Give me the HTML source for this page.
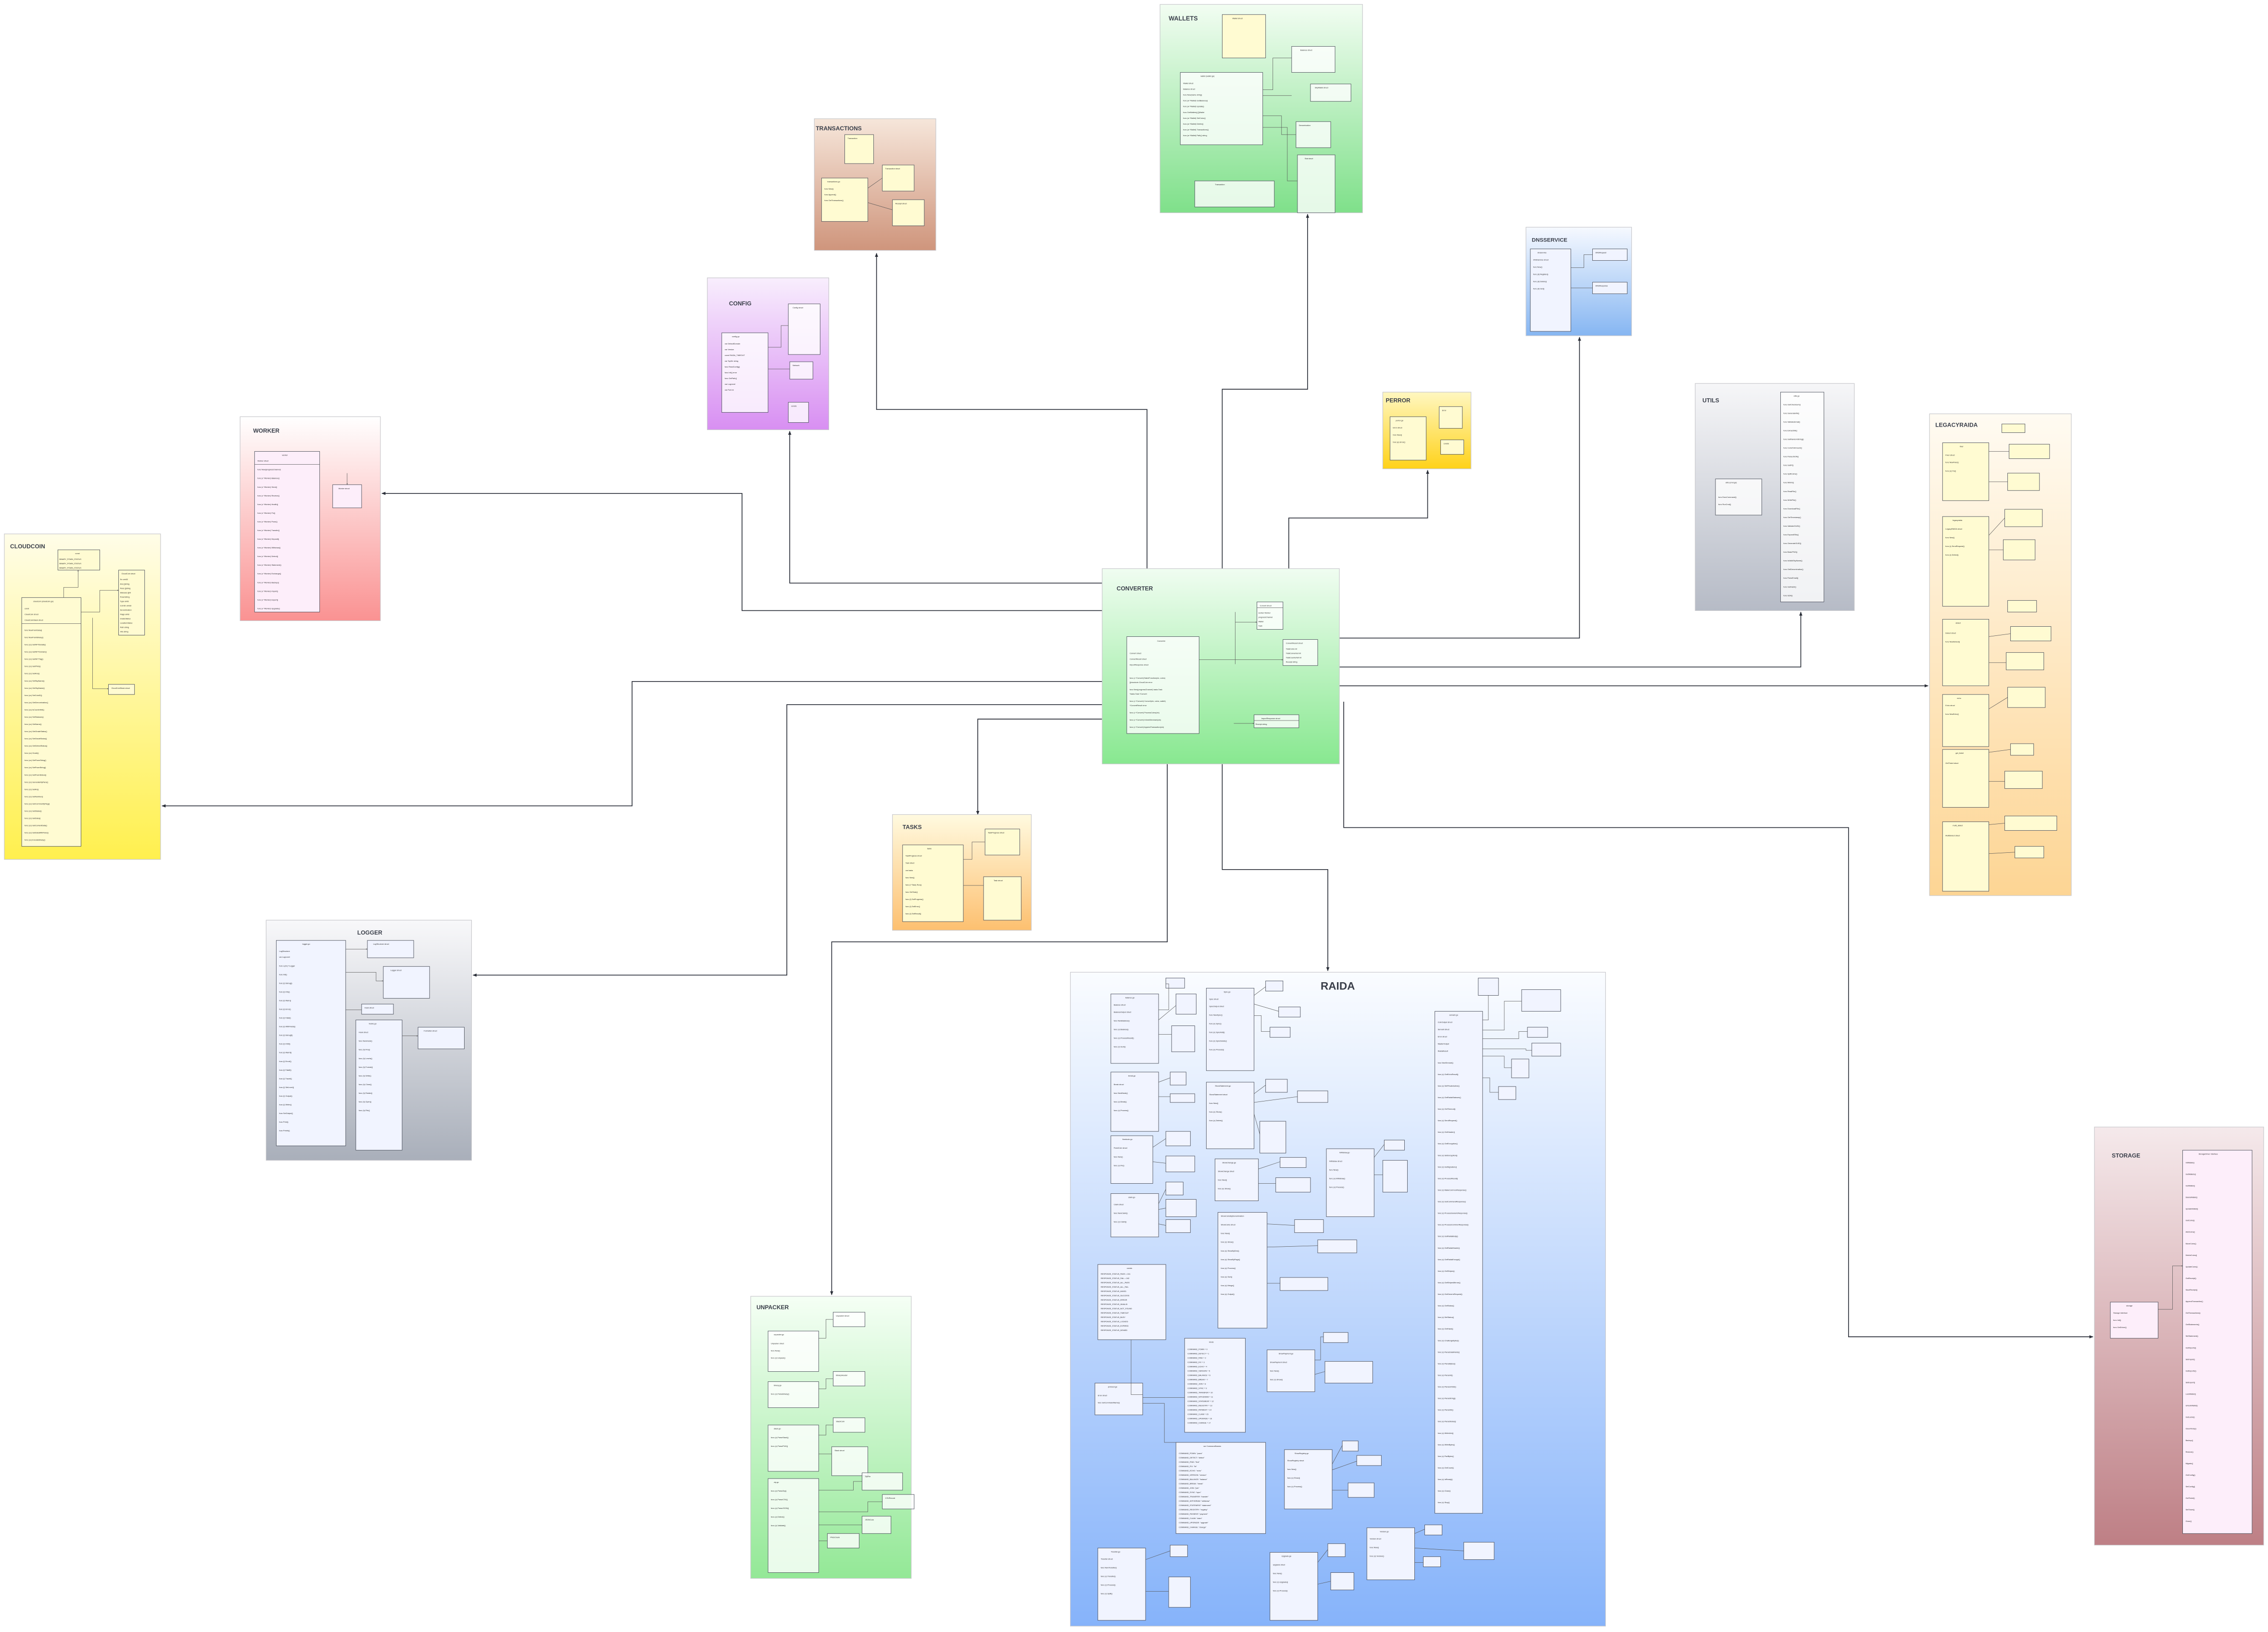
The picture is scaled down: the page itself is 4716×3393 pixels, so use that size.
<!DOCTYPE html>
<html><head><meta charset="utf-8">
<style>
html,body{margin:0;padding:0;background:#fff;}
svg{display:block;}
.pk{stroke:#c8c8cc;stroke-width:0.4;}
.t{font-family:"Liberation Sans",sans-serif;font-weight:bold;fill:#3a3f4a;}
.c{fill:#ffffff;fill-opacity:0.8;stroke:#4a4f5a;stroke-width:0.3;}
.y{fill:#fffbd2;stroke:#4a4f5a;stroke-width:0.3;}
.p{fill:#fdeefa;stroke:#4a4f5a;stroke-width:0.3;}
.s{fill:#f1f4ff;stroke:#4a4f5a;stroke-width:0.3;}
.f{font-family:"Liberation Sans",sans-serif;font-size:1.3px;fill:#222;}
.ln{stroke:#2a2e38;stroke-width:0.55;fill:none;}
.il{stroke:#555;stroke-width:0.25;fill:none;}
</style></head>
<body>
<svg width="4716" height="3393" viewBox="0 0 1568 1128" xmlns="http://www.w3.org/2000/svg">
<defs>
<marker id="a" viewBox="0 0 10 10" refX="9" refY="5" markerWidth="5" markerHeight="5" orient="auto"><path d="M0,1 L10,5 L0,9 z" fill="#2a2e38"/></marker>
<marker id="b" viewBox="0 0 10 10" refX="9" refY="5" markerWidth="4" markerHeight="4" orient="auto"><path d="M0,1 L10,5 L0,9 z" fill="#555"/></marker>
<linearGradient id="gWal" x1="0" y1="0" x2="0" y2="1"><stop offset="0" stop-color="#f2fdf2"/><stop offset="1" stop-color="#7fe08a"/></linearGradient>
<linearGradient id="gTra" x1="0" y1="0" x2="0" y2="1"><stop offset="0" stop-color="#f6e6da"/><stop offset="1" stop-color="#cf957c"/></linearGradient>
<linearGradient id="gCfg" x1="0" y1="0" x2="0" y2="1"><stop offset="0" stop-color="#f8eefd"/><stop offset="1" stop-color="#d88ff2"/></linearGradient>
<linearGradient id="gDns" x1="0" y1="0" x2="0" y2="1"><stop offset="0" stop-color="#f6f9ff"/><stop offset="1" stop-color="#86b6f2"/></linearGradient>
<linearGradient id="gPer" x1="0" y1="0" x2="0" y2="1"><stop offset="0" stop-color="#fff7c0"/><stop offset="1" stop-color="#ffd21a"/></linearGradient>
<linearGradient id="gUti" x1="0" y1="0" x2="0" y2="1"><stop offset="0" stop-color="#f6f6f8"/><stop offset="1" stop-color="#b6bbc6"/></linearGradient>
<linearGradient id="gLeg" x1="0" y1="0" x2="0" y2="1"><stop offset="0" stop-color="#fffbf2"/><stop offset="1" stop-color="#fdd594"/></linearGradient>
<linearGradient id="gWor" x1="0" y1="0" x2="0" y2="1"><stop offset="0" stop-color="#ffffff"/><stop offset="1" stop-color="#fa9292"/></linearGradient>
<linearGradient id="gClo" x1="0" y1="0" x2="0" y2="1"><stop offset="0" stop-color="#fffde8"/><stop offset="1" stop-color="#fff04e"/></linearGradient>
<linearGradient id="gCon" x1="0" y1="0" x2="0" y2="1"><stop offset="0" stop-color="#f0fdf1"/><stop offset="1" stop-color="#88e890"/></linearGradient>
<linearGradient id="gTas" x1="0" y1="0" x2="0" y2="1"><stop offset="0" stop-color="#fffae0"/><stop offset="1" stop-color="#fdc070"/></linearGradient>
<linearGradient id="gLog" x1="0" y1="0" x2="0" y2="1"><stop offset="0" stop-color="#f8f8fa"/><stop offset="1" stop-color="#a9afba"/></linearGradient>
<linearGradient id="gRai" x1="0" y1="0" x2="0" y2="1"><stop offset="0" stop-color="#fafcff"/><stop offset="1" stop-color="#86b3fa"/></linearGradient>
<linearGradient id="gUnp" x1="0" y1="0" x2="0" y2="1"><stop offset="0" stop-color="#f5fff5"/><stop offset="1" stop-color="#93e896"/></linearGradient>
<linearGradient id="gSto" x1="0" y1="0" x2="0" y2="1"><stop offset="0" stop-color="#f5e9eb"/><stop offset="1" stop-color="#be7f85"/></linearGradient>
</defs>

<!-- connectors -->
<polyline class="ln" points="793,393 793,283 606,283 606,175" marker-end="url(#a)"/>
<polyline class="ln" points="845,393 845,269 904,269 904,148" marker-end="url(#a)"/>
<polyline class="ln" points="762,403 546,403 546,298" marker-end="url(#a)"/>
<polyline class="ln" points="762,422 513,422 513,341 264,341" marker-end="url(#a)"/>
<polyline class="ln" points="891,393 891,358 987,358 987,325" marker-end="url(#a)"/>
<polyline class="ln" points="926,441 1092,441 1092,233" marker-end="url(#a)"/>
<polyline class="ln" points="926,461 1245,461 1245,423" marker-end="url(#a)"/>
<polyline class="ln" points="926,474 1333,474" marker-end="url(#a)"/>
<polyline class="ln" points="762,471 437,471 437,557 112,557" marker-end="url(#a)"/>
<polyline class="ln" points="762,497 676,497 676,563" marker-end="url(#a)"/>
<polyline class="ln" points="762,487 544,487 544,674 327,674" marker-end="url(#a)"/>
<polyline class="ln" points="807,528 807,651 575,651 575,895" marker-end="url(#a)"/>
<polyline class="ln" points="845,528 845,601 918,601 918,671" marker-end="url(#a)"/>
<polyline class="ln" points="929,485 929,572 1278,572 1278,924 1447,924" marker-end="url(#a)"/>

<!-- packages -->
<rect class="pk" x="802" y="3" width="140" height="144" fill="url(#gWal)"/>
<text class="t" x="808" y="14" font-size="4.2">WALLETS</text>
<rect class="pk" x="563" y="82" width="84" height="91" fill="url(#gTra)"/>
<text class="t" x="564" y="90" font-size="4">TRANSACTIONS</text>
<rect class="pk" x="489" y="192" width="84" height="105" fill="url(#gCfg)"/>
<text class="t" x="504" y="211" font-size="4">CONFIG</text>
<rect class="pk" x="1055" y="157" width="73" height="75" fill="url(#gDns)"/>
<text class="t" x="1059" y="167" font-size="3.8">DNSSERVICE</text>
<rect class="pk" x="956" y="271" width="61" height="53" fill="url(#gPer)"/>
<text class="t" x="958" y="278" font-size="4">PERROR</text>
<rect class="pk" x="1172" y="265" width="110" height="157" fill="url(#gUti)"/>
<text class="t" x="1177" y="278" font-size="4">UTILS</text>
<rect class="pk" x="1334" y="286" width="98" height="333" fill="url(#gLeg)"/>
<text class="t" x="1338" y="295" font-size="4">LEGACYRAIDA</text>
<rect class="pk" x="166" y="288" width="97" height="141" fill="url(#gWor)"/>
<text class="t" x="175" y="299" font-size="4">WORKER</text>
<rect class="pk" x="3" y="369" width="108" height="225" fill="url(#gClo)"/>
<text class="t" x="7" y="379" font-size="4">CLOUDCOIN</text>
<rect class="pk" x="762" y="393" width="164" height="135" fill="url(#gCon)"/>
<text class="t" x="772" y="408" font-size="4">CONVERTER</text>
<rect class="pk" x="617" y="563" width="96" height="80" fill="url(#gTas)"/>
<text class="t" x="624" y="573" font-size="4">TASKS</text>
<rect class="pk" x="184" y="636" width="142" height="166" fill="url(#gLog)"/>
<text class="t" x="247" y="646" font-size="4">LOGGER</text>
<rect class="pk" x="740" y="672" width="370" height="452" fill="url(#gRai)"/>
<text class="t" x="913" y="684" font-size="7.5">RAIDA</text>
<rect class="pk" x="519" y="896" width="111" height="195" fill="url(#gUnp)"/>
<text class="t" x="523" y="905" font-size="4">UNPACKER</text>
<rect class="pk" x="1448" y="779" width="117" height="289" fill="url(#gSto)"/>
<text class="t" x="1460" y="800" font-size="4">STORAGE</text>

<!-- WALLETS inner -->
<g>
<rect class="y" x="845" y="10" width="30" height="30"/><text class="f" x="852" y="13">Wallet struct</text>
<rect class="c" x="816" y="50" width="57" height="50"/><text class="f" x="830" y="53">wallet (wallet.go)</text>
<text class="f" x="818" y="58">Wallet struct</text><text class="f" x="818" y="62">Balance struct</text><text class="f" x="818" y="66">func New(name string)</text><text class="f" x="818" y="70">func (w *Wallet) GetBalance()</text><text class="f" x="818" y="74">func (w *Wallet) Update()</text><text class="f" x="818" y="78">func GetWallets() []Wallet</text><text class="f" x="818" y="82">func (w *Wallet) SetCoins()</text><text class="f" x="818" y="86">func (w *Wallet) Delete()</text><text class="f" x="818" y="90">func (w *Wallet) Transactions()</text><text class="f" x="818" y="94">func (w *Wallet) Path() string</text>
<rect class="c" x="893" y="32" width="30" height="18"/><text class="f" x="899" y="35">Balance struct</text>
<rect class="c" x="906" y="58" width="28" height="12"/><text class="f" x="909" y="61">SkyWallet struct</text>
<rect class="c" x="896" y="84" width="24" height="18"/><text class="f" x="898" y="87">Denomination</text>
<rect class="c" x="897" y="107" width="26" height="40"/><text class="f" x="902" y="110">Stat struct</text>
<rect class="c" x="826" y="125" width="55" height="18"/><text class="f" x="840" y="128">Transaction</text>
<polyline class="il" points="873,66 893,66"/><polyline class="il" points="873,62 880,62 880,40 893,40"/><polyline class="il" points="873,80 886,80 886,93 896,93"/><polyline class="il" points="873,88 890,88 890,125 897,125"/>
</g>

<!-- TRANSACTIONS inner -->
<rect class="y" x="584" y="93" width="20" height="20"/><text class="f" x="586" y="96">Transaction</text>
<rect class="y" x="568" y="123" width="32" height="30"/><text class="f" x="572" y="126">transactions.go</text><text class="f" x="570" y="131">func New()</text><text class="f" x="570" y="135">func Append()</text><text class="f" x="570" y="139">func GetTransactions()</text>
<rect class="y" x="610" y="114" width="22" height="18"/><text class="f" x="612" y="117">Transaction struct</text>
<rect class="y" x="617" y="138" width="22" height="18"/><text class="f" x="619" y="141">Receipt struct</text>
<polyline class="il" points="600,130 610,123"/><polyline class="il" points="600,140 617,145"/>

<!-- CONFIG inner -->
<rect class="c" x="499" y="230" width="32" height="55"/><text class="f" x="506" y="233">config.go</text>
<text class="f" x="501" y="238">var DefaultDomain</text><text class="f" x="501" y="242">var Version</text><text class="f" x="501" y="246">const RAIDA_TIMEOUT</text><text class="f" x="501" y="250">var TopDir string</text><text class="f" x="501" y="254">func ReadConfig()</text><text class="f" x="501" y="258">func Init() error</text><text class="f" x="501" y="262">func GetPath()</text><text class="f" x="501" y="266">var LogLevel</text><text class="f" x="501" y="270">var Port int</text>
<rect class="c" x="545" y="210" width="22" height="35"/><text class="f" x="548" y="213">Config struct</text>
<rect class="c" x="546" y="250" width="16" height="12"/><text class="f" x="548" y="253">Network</text>
<rect class="c" x="545" y="278" width="14" height="14"/><text class="f" x="547" y="281">consts</text>
<polyline class="il" points="531,240 540,240 540,225 545,225"/><polyline class="il" points="531,255 546,255"/>

<!-- DNSSERVICE inner -->
<rect class="s" x="1058" y="172" width="28" height="57"/><text class="f" x="1063" y="175">dnsservice</text><text class="f" x="1060" y="180">DNSService struct</text><text class="f" x="1060" y="185">func New()</text><text class="f" x="1060" y="190">func (d) Register()</text><text class="f" x="1060" y="195">func (d) Delete()</text><text class="f" x="1060" y="200">func (d) Get()</text>
<rect class="s" x="1101" y="172" width="24" height="8"/><text class="f" x="1103" y="175">DNSRequest</text>
<rect class="s" x="1101" y="195" width="24" height="8"/><text class="f" x="1103" y="198">DNSResponse</text>
<polyline class="il" points="1086,185 1095,185 1095,176 1101,176"/><polyline class="il" points="1086,199 1101,199"/>

<!-- PERROR inner -->
<rect class="y" x="961" y="288" width="25" height="30"/><text class="f" x="965" y="291">perror.go</text><text class="f" x="963" y="296">Error struct</text><text class="f" x="963" y="301">func New()</text><text class="f" x="963" y="306">func (e) Error()</text>
<rect class="y" x="995" y="281" width="16" height="15"/><text class="f" x="997" y="284">Error</text>
<rect class="y" x="996" y="304" width="16" height="10"/><text class="f" x="998" y="307">consts</text>

<!-- UTILS inner -->
<rect class="c" x="1231" y="271" width="30" height="145"/><text class="f" x="1240" y="274">utils.go</text>
<g class="f"><text x="1233" y="280">func GetChecksum()</text><text x="1233" y="286">func GenerateAN()</text><text x="1233" y="292">func ValidateEmail()</text><text x="1233" y="298">func ExtractSN()</text><text x="1233" y="304">func GetRandomString()</text><text x="1233" y="310">func CoinsToAmount()</text><text x="1233" y="316">func ParseJSON()</text><text x="1233" y="322">func GetIP()</text><text x="1233" y="328">func SplitCoins()</text><text x="1233" y="334">func MinInt()</text><text x="1233" y="340">func ReadFile()</text><text x="1233" y="346">func WriteFile()</text><text x="1233" y="352">func DownloadFile()</text><text x="1233" y="358">func GetTimestamp()</text><text x="1233" y="364">func ValidateGUID()</text><text x="1233" y="370">func ExpandSNs()</text><text x="1233" y="376">func GenerateGUID()</text><text x="1233" y="382">func BasicPNG()</text><text x="1233" y="388">func IsValidSkyName()</text><text x="1233" y="394">func GetDenomination()</text><text x="1233" y="400">func ParseEmail()</text><text x="1233" y="406">func GetHash()</text><text x="1233" y="412">func IsDir()</text></g>
<rect class="c" x="1186" y="331" width="32" height="25"/><text class="f" x="1193" y="334">utils (cmd.go)</text><text class="f" x="1188" y="344">func ExecCommand()</text><text class="f" x="1188" y="349">func RunCmd()</text>

<!-- LEGACYRAIDA inner -->
<g>
<rect class="y" x="1343" y="306" width="32" height="40"/><text class="f" x="1355" y="309">fixer</text>
<rect class="y" x="1343" y="357" width="32" height="62"/><text class="f" x="1350" y="360">legacyraida</text>
<rect class="y" x="1343" y="428" width="32" height="46"/><text class="f" x="1352" y="431">detect</text>
<rect class="y" x="1343" y="480" width="32" height="36"/><text class="f" x="1353" y="483">echo</text>
<rect class="y" x="1343" y="518" width="32" height="40"/><text class="f" x="1352" y="521">get_ticket</text>
<rect class="y" x="1343" y="568" width="32" height="48"/><text class="f" x="1350" y="571">multi_detect</text>
<rect class="y" x="1384" y="293" width="16" height="6"/>
<rect class="y" x="1389" y="307" width="28" height="10"/>
<rect class="y" x="1388" y="327" width="22" height="12"/>
<rect class="y" x="1386" y="352" width="26" height="12"/>
<rect class="y" x="1385" y="373" width="22" height="14"/>
<rect class="y" x="1388" y="415" width="20" height="8"/>
<rect class="y" x="1390" y="433" width="28" height="10"/>
<rect class="y" x="1387" y="451" width="26" height="12"/>
<rect class="y" x="1388" y="475" width="26" height="14"/>
<rect class="y" x="1390" y="514" width="16" height="8"/>
<rect class="y" x="1386" y="533" width="26" height="12"/>
<rect class="y" x="1386" y="564" width="36" height="10"/>
<rect class="y" x="1393" y="585" width="20" height="8"/>
<g class="f"><text x="1345" y="315">Fixer struct</text><text x="1345" y="320">func NewFixer()</text><text x="1345" y="326">func (v) Fix()</text><text x="1345" y="366">LegacyRAIDA struct</text><text x="1345" y="372">func New()</text><text x="1345" y="378">func (r) SendRequest()</text><text x="1345" y="384">func (r) Detect()</text><text x="1345" y="438">Detect struct</text><text x="1345" y="444">func NewDetect()</text><text x="1345" y="488">Echo struct</text><text x="1345" y="494">func NewEcho()</text><text x="1345" y="528">GetTicket struct</text><text x="1345" y="578">MultiDetect struct</text></g>
<polyline class="il" points="1375,312 1389,312"/><polyline class="il" points="1375,333 1388,333"/><polyline class="il" points="1375,370 1386,358"/><polyline class="il" points="1375,380 1385,380"/><polyline class="il" points="1375,440 1390,438"/><polyline class="il" points="1375,458 1387,458"/><polyline class="il" points="1375,490 1388,482"/><polyline class="il" points="1375,520 1390,518"/><polyline class="il" points="1375,540 1386,540"/><polyline class="il" points="1375,570 1386,569"/><polyline class="il" points="1375,590 1393,589"/>
</g>

<!-- WORKER inner -->
<rect class="p" x="176" y="312" width="45" height="111"/><text class="f" x="195" y="315">worker</text><text class="f" x="178" y="319">Worker struct</text>
<line class="il" x1="176" y1="321" x2="221" y2="321"/>
<g class="f"><text x="178" y="325">func New(progressChannel)</text><text x="178" y="331">func (v *Worker) Balance()</text><text x="178" y="337">func (v *Worker) Send()</text><text x="178" y="343">func (v *Worker) Receive()</text><text x="178" y="349">func (v *Worker) Health()</text><text x="178" y="355">func (v *Worker) Fix()</text><text x="178" y="361">func (v *Worker) Pown()</text><text x="178" y="367">func (v *Worker) Transfer()</text><text x="178" y="373">func (v *Worker) Deposit()</text><text x="178" y="379">func (v *Worker) Withdraw()</text><text x="178" y="385">func (v *Worker) Detect()</text><text x="178" y="391">func (v *Worker) Statement()</text><text x="178" y="397">func (v *Worker) Exchange()</text><text x="178" y="403">func (v *Worker) Backup()</text><text x="178" y="409">func (v *Worker) Import()</text><text x="178" y="415">func (v *Worker) Export()</text><text x="178" y="421">func (v *Worker) Upgrade()</text></g>
<rect class="p" x="230" y="335" width="20" height="16"/><text class="f" x="234" y="338">Worker struct</text>
<polyline class="il" points="240,327 240,335" marker-end="url(#b)"/>

<!-- CLOUDCOIN inner -->
<rect class="y" x="40" y="380" width="29" height="14"/><text class="f" x="52" y="383">const</text><text class="f" x="41" y="387">BINARY_POWN_STATUS</text><text class="f" x="41" y="390">BINARY_POWN_STATUS</text><text class="f" x="41" y="393">BINARY_POWN_STATUS</text>
<rect class="y" x="82" y="394" width="18" height="45"/><text class="f" x="84" y="397">CloudCoin struct</text>
<g class="f"><text x="83" y="401">Sn uint32</text><text x="83" y="404">Ans []string</text><text x="83" y="407">Pans []string</text><text x="83" y="410">Statuses []int</text><text x="83" y="413">PownString</text><text x="83" y="416">Type uint8</text><text x="83" y="419">CoinID uint16</text><text x="83" y="422">Denomination</text><text x="83" y="425">Flags uint8</text><text x="83" y="428">GradeStatus</text><text x="83" y="431">LocationStatus</text><text x="83" y="434">Path string</text><text x="83" y="437">Info string</text></g>
<rect class="y" x="15" y="413" width="41" height="172"/><text class="f" x="23" y="416">cloudcoin (cloudcoin.go)</text><text class="f" x="17" y="421">const</text><text class="f" x="17" y="425">CloudCoin struct</text><text class="f" x="17" y="429">CloudCoinStack struct</text>
<line class="il" x1="15" y1="431" x2="56" y2="431"/>
<g class="f"><text x="17" y="436">func NewFromData()</text><text x="17" y="441">func NewFromBinary()</text><text x="17" y="446">func (cc) SetNFTDetails()</text><text x="17" y="451">func (cc) GetNFTDomain()</text><text x="17" y="456">func (cc) GetNFTTag()</text><text x="17" y="461">func (cc) GetPNG()</text><text x="17" y="466">func (cc) SetAns()</text><text x="17" y="471">func (cc) SetSkyName()</text><text x="17" y="476">func (cc) GetSkyName()</text><text x="17" y="481">func (cc) SetCoinID()</text><text x="17" y="486">func (cc) GetDenomination()</text><text x="17" y="491">func (cc) IsCounterfeit()</text><text x="17" y="496">func (cc) SetStatuses()</text><text x="17" y="501">func (cc) GetName()</text><text x="17" y="506">func (cc) GetGradeStatus()</text><text x="17" y="511">func (cc) SetGradeStatus()</text><text x="17" y="516">func (cc) GetDetectStatus()</text><text x="17" y="521">func (cc) Grade()</text><text x="17" y="526">func (cc) GetPownString()</text><text x="17" y="531">func (cc) SetPownString()</text><text x="17" y="536">func (cc) SetPownStatus()</text><text x="17" y="541">func (cc) GenerateMyPans()</text><text x="17" y="546">func (cc) SetAn()</text><text x="17" y="551">func (cc) SetNumber()</text><text x="17" y="556">func (cc) GetCommunityFlag()</text><text x="17" y="561">func (cc) SetStatus()</text><text x="17" y="566">func (cc) GetData()</text><text x="17" y="571">func (cc) GetContentData()</text><text x="17" y="576">func (cc) GetDataWithPans()</text><text x="17" y="581">func (cc) EncodeBinary()</text></g>
<rect class="y" x="75" y="473" width="18" height="7"/><text class="f" x="77" y="476">CloudCoinStack struct</text>
<polyline class="il" points="44,413 44,406 54,406 54,394" marker-end="url(#b)"/>
<polyline class="il" points="56,423 69,423 69,408 82,408" marker-end="url(#b)"/>
<polyline class="il" points="64,427 64,476 75,476" marker-end="url(#b)"/>

<!-- CONVERTER inner -->
<rect class="c" x="779" y="440" width="50" height="67"/><text class="f" x="800" y="443.5">Converter</text>
<g class="f"><text x="781" y="452">Convert struct</text><text x="781" y="456">ConvertResult struct</text><text x="781" y="460">ImportResponse struct</text><text x="781" y="469">func (v *Convert) BatchFunction(ctx, coins)</text><text x="781" y="472">[]cloudcoin.CloudCoin error</text><text x="781" y="477">func New(progressChannel) tasks.Task</text><text x="781" y="480">*tasks.Task *Convert</text><text x="781" y="485">func (v *Convert) Convert(ctx, coins, wallet)</text><text x="781" y="488">*ConvertResult error</text><text x="781" y="493">func (v *Convert) ProcessCoins(ctx)</text><text x="781" y="498">func (v *Convert) InformMerchant(ctx)</text><text x="781" y="503">func (v *Convert) AppendTransaction(ctx)</text></g>
<rect class="c" x="869" y="416" width="18" height="19"/><text class="f" x="871" y="419">Convert struct</text><line class="il" x1="869" y1="420" x2="887" y2="420"/><text class="f" x="870" y="424">worker Worker</text><text class="f" x="870" y="427">progressChannel</text><text class="f" x="870" y="430">Wallet</text><text class="f" x="870" y="433">Task</text>
<rect class="c" x="887" y="442" width="24" height="18"/><text class="f" x="889" y="445">ConvertResult struct</text><text class="f" x="889" y="449">TotalCoins int</text><text class="f" x="889" y="452">TotalConverted int</text><text class="f" x="889" y="455">TotalCounterfeit int</text><text class="f" x="889" y="458">Receipt string</text>
<rect class="c" x="867" y="494" width="31" height="9"/><text class="f" x="872" y="497">ImportResponse struct</text><line class="il" x1="867" y1="498" x2="898" y2="498"/><text class="f" x="868" y="501">Receipt string</text>
<polyline class="il" points="829,456 887,456" marker-end="url(#b)"/>
<polyline class="il" points="854,423 854,459"/><polyline class="il" points="854,430 869,430" marker-end="url(#b)"/>
<polyline class="il" points="853,500 867,500" marker-end="url(#b)"/>

<!-- TASKS inner -->
<rect class="y" x="624" y="584" width="42" height="53"/><text class="f" x="641" y="587">tasks</text>
<g class="f"><text x="626" y="592">TaskProgress struct</text><text x="626" y="597">Task struct</text><text x="626" y="602">var tasks</text><text x="626" y="607">func New()</text><text x="626" y="612">func (t *Task) Run()</text><text x="626" y="617">func GetTask()</text><text x="626" y="622">func (t) SetProgress()</text><text x="626" y="627">func (t) SetError()</text><text x="626" y="632">func (t) SetResult()</text></g>
<rect class="y" x="681" y="573" width="24" height="18"/><text class="f" x="683" y="576">TaskProgress struct</text>
<rect class="y" x="680" y="606" width="26" height="30"/><text class="f" x="687" y="609">Task struct</text>
<polyline class="il" points="666,594 672,594 672,582 681,582"/><polyline class="il" points="666,612 680,612"/>

<!-- LOGGER inner -->
<rect class="s" x="191" y="650" width="48" height="142"/><text class="f" x="209" y="653">logger.go</text>
<g class="f"><text x="193" y="658">LogStructure</text><text x="193" y="662">var LogLevel</text><text x="193" y="668">func L(ctx) *Logger</text><text x="193" y="674">func Init()</text><text x="193" y="680">func (l) Debug()</text><text x="193" y="686">func (l) Info()</text><text x="193" y="692">func (l) Warn()</text><text x="193" y="698">func (l) Error()</text><text x="193" y="704">func (l) Fatal()</text><text x="193" y="710">func (l) WithFields()</text><text x="193" y="716">func (l) Debugf()</text><text x="193" y="722">func (l) Infof()</text><text x="193" y="728">func (l) Warnf()</text><text x="193" y="734">func (l) Errorf()</text><text x="193" y="740">func (l) Fatalf()</text><text x="193" y="746">func (l) Tracef()</text><text x="193" y="752">func (l) SetLevel()</text><text x="193" y="758">func (l) Output()</text><text x="193" y="764">func (l) Writer()</text><text x="193" y="770">func SetOutput()</text><text x="193" y="776">func Print()</text><text x="193" y="782">func Println()</text></g>
<rect class="s" x="254" y="650" width="32" height="12"/><text class="f" x="258" y="653">LogStructure struct</text>
<rect class="s" x="265" y="668" width="32" height="22"/><text class="f" x="270" y="671">Logger struct</text>
<rect class="s" x="250" y="694" width="22" height="7"/><text class="f" x="252" y="697">Hook struct</text>
<rect class="s" x="246" y="705" width="32" height="90"/><text class="f" x="255" y="708">hooks.go</text>
<g class="f"><text x="248" y="714">Hook struct</text><text x="248" y="720">func NewHook()</text><text x="248" y="726">func (h) Fire()</text><text x="248" y="732">func (h) Levels()</text><text x="248" y="738">func (h) Format()</text><text x="248" y="744">func (h) Write()</text><text x="248" y="750">func (h) Close()</text><text x="248" y="756">func (h) Rotate()</text><text x="248" y="762">func (h) Open()</text><text x="248" y="768">func (h) File()</text></g>
<rect class="s" x="289" y="710" width="32" height="15"/><text class="f" x="293" y="713">Formatter struct</text>
<polyline class="il" points="239,656 254,656" marker-end="url(#b)"/><polyline class="il" points="239,672 260,672 260,678 265,678" marker-end="url(#b)"/><polyline class="il" points="239,698 250,698"/><polyline class="il" points="278,716 289,716" marker-end="url(#b)"/>

<!-- UNPACKER inner -->
<g>
<rect class="c" x="531" y="920" width="35" height="28"/><text class="f" x="535" y="923">unpacker.go</text><text class="f" x="533" y="929">Unpacker struct</text><text class="f" x="533" y="934">func New()</text><text class="f" x="533" y="939">func (v) Unpack()</text>
<rect class="c" x="531" y="955" width="35" height="18"/><text class="f" x="535" y="958">binary.go</text><text class="f" x="533" y="964">func (v) ParseBinary()</text>
<rect class="c" x="531" y="985" width="35" height="32"/><text class="f" x="535" y="988">stack.go</text><text class="f" x="533" y="994">func (v) ParseStack()</text><text class="f" x="533" y="1000">func (v) ParsePNG()</text>
<rect class="c" x="531" y="1022" width="35" height="65"/><text class="f" x="535" y="1025">zip.go</text><text class="f" x="533" y="1031">func (v) ParseZip()</text><text class="f" x="533" y="1037">func (v) ParseCSV()</text><text class="f" x="533" y="1043">func (v) ParseJSON()</text><text class="f" x="533" y="1049">func (v) Detect()</text><text class="f" x="533" y="1055">func (v) Validate()</text>
<rect class="c" x="576" y="907" width="22" height="10" fill="#d6f7d6"/><text class="f" x="578" y="910">Unpacker struct</text>
<rect class="c" x="576" y="948" width="22" height="10"/><text class="f" x="578" y="951">BinaryHeader</text>
<rect class="c" x="576" y="980" width="22" height="10"/><text class="f" x="578" y="983">StackCoin</text>
<rect class="c" x="575" y="1000" width="25" height="20"/><text class="f" x="577" y="1003">Stack struct</text>
<rect class="c" x="596" y="1018" width="28" height="12"/><text class="f" x="598" y="1021">ZipFile</text>
<rect class="c" x="610" y="1033" width="22" height="10"/><text class="f" x="612" y="1036">CSVRecord</text>
<rect class="c" x="596" y="1048" width="20" height="12"/><text class="f" x="598" y="1051">JSONCoin</text>
<rect class="c" x="572" y="1060" width="22" height="10"/><text class="f" x="574" y="1063">PNGChunk</text>
<polyline class="il" points="566,925 571,925 571,912 576,912"/><polyline class="il" points="566,960 571,960 571,953 576,953"/><polyline class="il" points="566,992 571,992 571,985 576,985"/><polyline class="il" points="566,1005 575,1005"/><polyline class="il" points="566,1030 590,1030 590,1024 596,1024"/><polyline class="il" points="566,1045 600,1045 600,1038 610,1038"/><polyline class="il" points="566,1054 596,1054"/><polyline class="il" points="566,1065 572,1065"/>
</g>

<!-- STORAGE inner -->
<rect class="p" x="1459" y="900" width="33" height="25"/><text class="f" x="1470" y="903">storage</text><text class="f" x="1461" y="908">Storage interface</text><text class="f" x="1461" y="913">func Init()</text><text class="f" x="1461" y="918">func GetDriver()</text>
<rect class="p" x="1509" y="795" width="48" height="265"/><text class="f" x="1520" y="798">StorageDriver interface</text>
<g class="f"><text x="1511" y="804">InitWallet()</text><text x="1511" y="812">GetWallets()</text><text x="1511" y="820">GetWallet()</text><text x="1511" y="828">DeleteWallet()</text><text x="1511" y="836">UpdateWallet()</text><text x="1511" y="844">GetCoins()</text><text x="1511" y="852">AddCoins()</text><text x="1511" y="860">MoveCoins()</text><text x="1511" y="868">DeleteCoins()</text><text x="1511" y="876">UpdateCoins()</text><text x="1511" y="884">GetReceipt()</text><text x="1511" y="892">SaveReceipt()</text><text x="1511" y="900">AppendTransaction()</text><text x="1511" y="908">GetTransactions()</text><text x="1511" y="916">GetStatements()</text><text x="1511" y="924">SetStatement()</text><text x="1511" y="932">GetImports()</text><text x="1511" y="940">SetImport()</text><text x="1511" y="948">GetExports()</text><text x="1511" y="956">SetExport()</text><text x="1511" y="964">LockWallet()</text><text x="1511" y="972">UnlockWallet()</text><text x="1511" y="980">GetLocks()</text><text x="1511" y="988">CleanTemp()</text><text x="1511" y="996">Backup()</text><text x="1511" y="1004">Restore()</text><text x="1511" y="1012">Migrate()</text><text x="1511" y="1020">GetConfig()</text><text x="1511" y="1028">SetConfig()</text><text x="1511" y="1036">GetTicket()</text><text x="1511" y="1044">SetTicket()</text><text x="1511" y="1052">Close()</text></g>
<polyline class="il" points="1492,905 1502,905 1502,875 1509,875" marker-end="url(#b)"/>

<!-- RAIDA inner -->
<g>
<rect class="s" x="768" y="687" width="33" height="48"/><text class="f" x="778" y="690">balance.go</text>
<rect class="s" x="834" y="683" width="33" height="57"/><text class="f" x="846" y="686">Sync.go</text>
<rect class="s" x="875" y="678" width="12" height="7"/><rect class="s" x="884" y="696" width="15" height="7"/><rect class="s" x="878" y="710" width="14" height="7"/>
<rect class="s" x="813" y="687" width="14" height="14"/><rect class="s" x="810" y="709" width="16" height="18"/><rect class="s" x="806" y="676" width="13" height="7"/>
<rect class="s" x="768" y="741" width="33" height="41"/><text class="f" x="780" y="744">break.go</text>
<rect class="s" x="809" y="741" width="11" height="9"/><rect class="s" x="809" y="756" width="17" height="6"/>
<rect class="s" x="834" y="748" width="33" height="46"/><text class="f" x="840" y="751">ShowStatement.go</text>
<rect class="s" x="875" y="746" width="15" height="9"/><rect class="s" x="897" y="754" width="21" height="8"/><rect class="s" x="871" y="775" width="18" height="22"/>
<rect class="s" x="768" y="785" width="29" height="33"/><text class="f" x="776" y="788">fixedcoin.go</text>
<rect class="s" x="806" y="782" width="17" height="10"/><rect class="s" x="806" y="799" width="20" height="11"/>
<rect class="s" x="768" y="825" width="33" height="30"/><text class="f" x="780" y="828">claim.go</text>
<rect class="s" x="806" y="817" width="12" height="9"/><rect class="s" x="806" y="829" width="21" height="12"/><rect class="s" x="806" y="843" width="17" height="9"/>
<rect class="s" x="840" y="801" width="30" height="29"/><text class="f" x="845" y="804">ShowChange.go</text>
<rect class="s" x="885" y="800" width="18" height="7"/><rect class="s" x="882" y="814" width="24" height="10"/>
<rect class="s" x="917" y="794" width="33" height="47"/><text class="f" x="926" y="797">Withdraw.go</text>
<rect class="s" x="957" y="788" width="14" height="7"/><rect class="s" x="956" y="802" width="17" height="22"/>
<rect class="s" x="842" y="838" width="34" height="80"/><text class="f" x="844" y="841">ShowCoinsByDenomination</text>
<rect class="s" x="895" y="843" width="20" height="9"/><rect class="s" x="911" y="857" width="27" height="9"/><rect class="s" x="885" y="883" width="33" height="9"/>
<rect class="s" x="759" y="874" width="47" height="52"/><text class="f" x="779" y="877">consts</text>
<rect class="s" x="819" y="925" width="42" height="65"/><text class="f" x="836" y="928">kinds</text>
<rect class="s" x="876" y="933" width="33" height="29"/><text class="f" x="884" y="936">ShowPayment.go</text>
<rect class="s" x="915" y="921" width="17" height="7"/><rect class="s" x="916" y="941" width="33" height="15"/>
<rect class="s" x="757" y="956" width="33" height="22"/><text class="f" x="766" y="959">protocol.go</text>
<rect class="s" x="813" y="997" width="62" height="63"/><text class="f" x="832" y="1000">var CommandNames</text>
<rect class="s" x="888" y="1002" width="33" height="41"/><text class="f" x="895" y="1005">ShowRegistry.go</text>
<rect class="s" x="928" y="996" width="11" height="7"/><rect class="s" x="938" y="1006" width="17" height="7"/><rect class="s" x="932" y="1025" width="18" height="10"/>
<rect class="s" x="759" y="1070" width="33" height="50"/><text class="f" x="768" y="1073">Transfer.go</text>
<rect class="s" x="809" y="1068" width="12" height="8"/><rect class="s" x="808" y="1090" width="15" height="21"/>
<rect class="s" x="878" y="1073" width="33" height="47"/><text class="f" x="886" y="1076">Upgrade.go</text>
<rect class="s" x="918" y="1067" width="12" height="9"/><rect class="s" x="920" y="1087" width="16" height="12"/>
<rect class="s" x="945" y="1056" width="33" height="36"/><text class="f" x="954" y="1059">Version.go</text>
<rect class="s" x="985" y="1054" width="12" height="7"/><rect class="s" x="1012" y="1066" width="21" height="12"/><rect class="s" x="984" y="1076" width="12" height="7"/>
<rect class="s" x="992" y="699" width="33" height="347"/><text class="f" x="1002" y="702">servant.go</text>
<rect class="s" x="1022" y="676" width="14" height="12"/><rect class="s" x="1052" y="684" width="27" height="15"/><rect class="s" x="1056" y="710" width="14" height="7"/><rect class="s" x="1059" y="721" width="20" height="9"/><rect class="s" x="1045" y="732" width="12" height="13"/><rect class="s" x="1036" y="751" width="12" height="9"/>
<g class="f">
<text x="770" y="695">Balance struct</text><text x="770" y="700">BalanceOutput struct</text><text x="770" y="706">func NewBalance()</text><text x="770" y="712">func (v) Balance()</text><text x="770" y="718">func (v) ProcessResult()</text><text x="770" y="724">func (v) Sum()</text>
<text x="836" y="691">Sync struct</text><text x="836" y="696">SyncOutput struct</text><text x="836" y="702">func NewSync()</text><text x="836" y="708">func (v) Sync()</text><text x="836" y="714">func (v) SyncAdd()</text><text x="836" y="720">func (v) SyncDelete()</text><text x="836" y="726">func (v) Process()</text>
<text x="770" y="750">Break struct</text><text x="770" y="756">func NewBreak()</text><text x="770" y="762">func (v) Break()</text><text x="770" y="768">func (v) Process()</text>
<text x="836" y="757">ShowStatement struct</text><text x="836" y="763">func New()</text><text x="836" y="769">func (v) Show()</text><text x="836" y="775">func (v) Delete()</text>
<text x="770" y="794">FixedCoin struct</text><text x="770" y="800">func New()</text><text x="770" y="806">func (v) Fix()</text>
<text x="770" y="833">Claim struct</text><text x="770" y="839">func NewClaim()</text><text x="770" y="845">func (v) Claim()</text>
<text x="842" y="810">ShowChange struct</text><text x="842" y="816">func New()</text><text x="842" y="822">func (v) Show()</text>
<text x="919" y="803">Withdraw struct</text><text x="919" y="809">func New()</text><text x="919" y="815">func (v) Withdraw()</text><text x="919" y="821">func (v) Process()</text>
<text x="844" y="847">ShowCoins struct</text><text x="844" y="853">func New()</text><text x="844" y="859">func (v) Show()</text><text x="844" y="865">func (v) ShowByDen()</text><text x="844" y="871">func (v) ShowByPage()</text><text x="844" y="877">func (v) Process()</text><text x="844" y="883">func (v) Sort()</text><text x="844" y="889">func (v) Merge()</text><text x="844" y="895">func (v) Output()</text>
<text x="761" y="881">RESPONSE_STATUS_PASS = 241</text><text x="761" y="884">RESPONSE_STATUS_FAIL = 242</text><text x="761" y="887">RESPONSE_STATUS_ALL_PASS</text><text x="761" y="890">RESPONSE_STATUS_ALL_FAIL</text><text x="761" y="893">RESPONSE_STATUS_MIXED</text><text x="761" y="896">RESPONSE_STATUS_SUCCESS</text><text x="761" y="899">RESPONSE_STATUS_ERROR</text><text x="761" y="902">RESPONSE_STATUS_INVALID</text><text x="761" y="905">RESPONSE_STATUS_NOT_FOUND</text><text x="761" y="908">RESPONSE_STATUS_TIMEOUT</text><text x="761" y="911">RESPONSE_STATUS_BUSY</text><text x="761" y="914">RESPONSE_STATUS_LOCKED</text><text x="761" y="917">RESPONSE_STATUS_EXPIRED</text><text x="761" y="920">RESPONSE_STATUS_DENIED</text>
<text x="821" y="933">COMMAND_POWN = 0</text><text x="821" y="936">COMMAND_DETECT = 1</text><text x="821" y="939">COMMAND_FIND = 2</text><text x="821" y="942">COMMAND_FIX = 3</text><text x="821" y="945">COMMAND_ECHO = 4</text><text x="821" y="948">COMMAND_VERSION = 5</text><text x="821" y="951">COMMAND_BALANCE = 6</text><text x="821" y="954">COMMAND_BREAK = 7</text><text x="821" y="957">COMMAND_JOIN = 8</text><text x="821" y="960">COMMAND_SYNC = 9</text><text x="821" y="963">COMMAND_TRANSFER = 10</text><text x="821" y="966">COMMAND_WITHDRAW = 11</text><text x="821" y="969">COMMAND_STATEMENT = 12</text><text x="821" y="972">COMMAND_REGISTRY = 13</text><text x="821" y="975">COMMAND_PAYMENT = 14</text><text x="821" y="978">COMMAND_CLAIM = 15</text><text x="821" y="981">COMMAND_UPGRADE = 16</text><text x="821" y="984">COMMAND_CHANGE = 17</text>
<text x="878" y="942">ShowPayment struct</text><text x="878" y="948">func New()</text><text x="878" y="954">func (v) Show()</text>
<text x="759" y="965">Error struct</text><text x="759" y="970">func GetCommandName()</text>
<text x="815" y="1005">COMMAND_POWN: "pown"</text><text x="815" y="1008">COMMAND_DETECT: "detect"</text><text x="815" y="1011">COMMAND_FIND: "find"</text><text x="815" y="1014">COMMAND_FIX: "fix"</text><text x="815" y="1017">COMMAND_ECHO: "echo"</text><text x="815" y="1020">COMMAND_VERSION: "version"</text><text x="815" y="1023">COMMAND_BALANCE: "balance"</text><text x="815" y="1026">COMMAND_BREAK: "break"</text><text x="815" y="1029">COMMAND_JOIN: "join"</text><text x="815" y="1032">COMMAND_SYNC: "sync"</text><text x="815" y="1035">COMMAND_TRANSFER: "transfer"</text><text x="815" y="1038">COMMAND_WITHDRAW: "withdraw"</text><text x="815" y="1041">COMMAND_STATEMENT: "statement"</text><text x="815" y="1044">COMMAND_REGISTRY: "registry"</text><text x="815" y="1047">COMMAND_PAYMENT: "payment"</text><text x="815" y="1050">COMMAND_CLAIM: "claim"</text><text x="815" y="1053">COMMAND_UPGRADE: "upgrade"</text><text x="815" y="1056">COMMAND_CHANGE: "change"</text>
<text x="890" y="1010">ShowRegistry struct</text><text x="890" y="1016">func New()</text><text x="890" y="1022">func (v) Show()</text><text x="890" y="1028">func (v) Process()</text>
<text x="761" y="1078">Transfer struct</text><text x="761" y="1084">func NewTransfer()</text><text x="761" y="1090">func (v) Transfer()</text><text x="761" y="1096">func (v) Process()</text><text x="761" y="1102">func (v) Split()</text>
<text x="880" y="1082">Upgrade struct</text><text x="880" y="1088">func New()</text><text x="880" y="1094">func (v) Upgrade()</text><text x="880" y="1100">func (v) Process()</text>
<text x="947" y="1064">Version struct</text><text x="947" y="1070">func New()</text><text x="947" y="1076">func (v) Version()</text>
<text x="994" y="707">CoinOutput struct</text><text x="994" y="712">Servant struct</text><text x="994" y="717">Error struct</text><text x="994" y="722">MasterOutput</text><text x="994" y="727">RaidaResult</text><text x="994" y="735">func NewServant()</text><text x="994" y="743">func (v) GetEchoResult()</text><text x="994" y="751">func (v) SetPrivateActive()</text><text x="994" y="759">func (v) GetRaidaStatuses()</text><text x="994" y="767">func (v) GetTimeout()</text><text x="994" y="775">func (v) SendRequest()</text><text x="994" y="783">func (v) GetHeader()</text><text x="994" y="791">func (v) GetEncryption()</text><text x="994" y="799">func (v) SetEncryption()</text><text x="994" y="807">func (v) GetSignature()</text><text x="994" y="815">func (v) ProcessResult()</text><text x="994" y="823">func (v) MakeCommonResponse()</text><text x="994" y="831">func (v) GetCommandResponse()</text><text x="994" y="839">func (v) ProcessGenericResponse()</text><text x="994" y="847">func (v) ProcessCommonResponse()</text><text x="994" y="855">func (v) GetRaidaBody()</text><text x="994" y="863">func (v) GetRaidaHeader()</text><text x="994" y="871">func (v) GetRaidaEncrypt()</text><text x="994" y="879">func (v) GetStripes()</text><text x="994" y="887">func (v) GetStripesMirrors()</text><text x="994" y="895">func (v) GetGenericRequest()</text><text x="994" y="903">func (v) GetStatus()</text><text x="994" y="911">func (v) SetStatus()</text><text x="994" y="919">func (v) GetHash()</text><text x="994" y="927">func (v) ChallengeBytes()</text><text x="994" y="935">func (v) ParseDataFields()</text><text x="994" y="943">func (v) ParseBytes()</text><text x="994" y="951">func (v) ParseInt()</text><text x="994" y="959">func (v) ParseUint32()</text><text x="994" y="967">func (v) ParseString()</text><text x="994" y="975">func (v) ParseSN()</text><text x="994" y="983">func (v) ParseStatus()</text><text x="994" y="991">func (v) WriteUint()</text><text x="994" y="999">func (v) WriteBytes()</text><text x="994" y="1007">func (v) PadBytes()</text><text x="994" y="1015">func (v) GetCount()</text><text x="994" y="1023">func (v) IsReady()</text><text x="994" y="1031">func (v) Close()</text><text x="994" y="1039">func (v) Stop()</text>
</g>
<g class="il">
<polyline points="801,698 808,698 808,680 806,680"/><polyline points="801,705 813,695"/><polyline points="801,715 810,715"/>
<polyline points="867,688 875,682"/><polyline points="867,694 884,699"/><polyline points="867,702 872,702 872,713 878,713"/>
<polyline points="801,748 809,745"/><polyline points="801,758 809,758"/>
<polyline points="867,756 875,750"/><polyline points="867,762 897,758"/><polyline points="867,770 871,784"/>
<polyline points="797,793 806,787"/><polyline points="797,803 806,804"/>
<polyline points="801,832 806,822"/><polyline points="801,836 806,835"/><polyline points="801,846 806,847"/>
<polyline points="870,808 885,803"/><polyline points="870,818 882,818"/>
<polyline points="950,800 957,791"/><polyline points="950,812 956,812"/>
<polyline points="876,846 895,847"/><polyline points="876,862 911,861"/><polyline points="876,887 885,887"/>
<polyline points="909,940 913,940 913,924 915,924"/><polyline points="909,950 916,948"/>
<polyline points="790,964 782,964 782,926" /><polyline points="790,966 819,966"/><polyline points="790,970 805,970 805,997 813,997"/>
<polyline points="921,1012 928,999"/><polyline points="921,1016 938,1010"/><polyline points="921,1030 932,1030"/>
<polyline points="792,1078 809,1072"/><polyline points="792,1100 808,1100"/>
<polyline points="911,1080 918,1071"/><polyline points="911,1095 920,1093"/>
<polyline points="978,1060 985,1057"/><polyline points="978,1070 1012,1072"/><polyline points="978,1080 984,1080"/>
<polyline points="1025,705 1029,705 1029,688"/><polyline points="1025,712 1040,712 1040,692 1052,692"/><polyline points="1025,718 1050,718 1050,713 1056,713"/><polyline points="1025,725 1055,725 1055,726 1059,726"/><polyline points="1025,730 1040,730 1040,738 1045,738"/><polyline points="1025,745 1030,745 1030,755 1036,755"/>
</g>
</g>
</svg>
</body></html>
